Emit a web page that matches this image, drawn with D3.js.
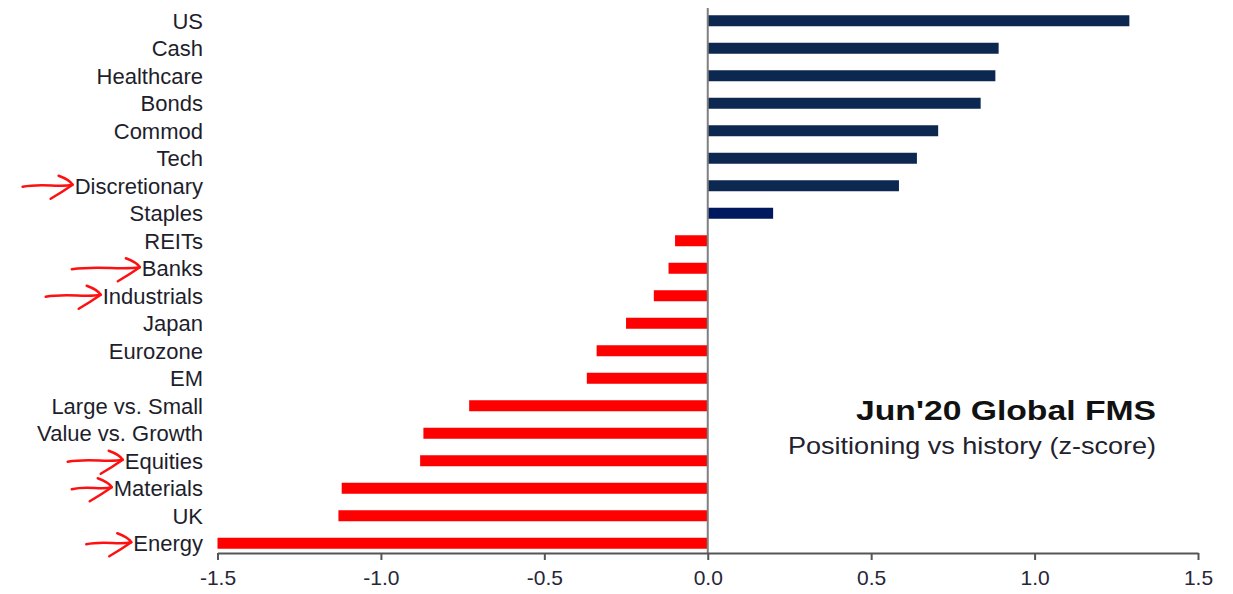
<!DOCTYPE html>
<html>
<head>
<meta charset="utf-8">
<script src="https://cdn.jsdelivr.net/npm/d3@7"></script>
<style>
  html, body { margin: 0; padding: 0; background: #fff; }
  svg { display: block; font-family: "Liberation Sans", Arial, sans-serif; }
</style>
</head>
<body>
<script>
// ----- Data -----
const categories = [
    "US", "Cash", "Healthcare", "Bonds", "Commod", "Tech", "Discretionary", "Staples",
    "REITs", "Banks", "Industrials", "Japan", "Eurozone", "EM", "Large vs. Small",
    "Value vs. Growth", "Equities", "Materials", "UK", "Energy"
];
const zScores = [
    1.29, 0.89, 0.88, 0.835, 0.705, 0.64, 0.585, 0.20,
    -0.10, -0.12, -0.165, -0.25, -0.34, -0.37, -0.73,
    -0.87, -0.88, -1.12, -1.13, -1.50
];
const tickValues = [-1.5, -1.0, -0.5, 0.0, 0.5, 1.0, 1.5];
// labels marked with a hand-drawn red arrow
const arrowed = ["Discretionary", "Banks", "Industrials", "Equities", "Materials", "Energy"];
const arrowLengths = [50, 68, 55, 55, 40, 45];

const titleText = "Jun'20 Global FMS";
const subtitleText = "Positioning vs history (z-score)";

// ----- Layout -----
const Width = 1233, Height = 594;
const AxisY = 553;

function main() {
    const data = categories.map((c, i) => ({ name: c, value: zScores[i] }));

    const svg = d3.select("body").append("svg")
        .attr("width", Width)
        .attr("height", Height);

    const x = d3.scaleLinear()
        .domain([-1.5, 1.5])
        .range([217.5, 1198]);
    const y = d3.scaleBand()
        .domain(categories)
        .range([7, 557])
        .paddingInner(0.6)
        .paddingOuter(0.3);

    // bars
    svg.append("g").selectAll("rect")
        .data(data)
        .enter()
        .append("rect")
            .attr("x", d => x(Math.min(0, d.value)))
            .attr("y", d => y(d.name))
            .attr("width", d => Math.abs(x(d.value) - x(0)))
            .attr("height", y.bandwidth())
            .attr("fill", d => d.name === "Staples" ? "#00185e" : (d.value >= 0 ? "#0c2850" : "#ff0000"));

    // zero line
    svg.append("line")
        .attr("x1", x(0)).attr("x2", x(0))
        .attr("y1", 8).attr("y2", AxisY)
        .attr("stroke", "#7f7f7f")
        .attr("stroke-width", 2);

    // bottom axis
    const bottomAxis = d3.axisBottom(x)
        .tickValues(tickValues)
        .tickFormat(d3.format(".1f"))
        .tickSize(7)
        .tickSizeOuter(0)
        .tickPadding(10);
    const axisG = svg.append("g")
        .attr("transform", `translate(0, ${AxisY})`)
        .call(bottomAxis);
    axisG.select(".domain")
        .attr("stroke", "#555")
        .attr("stroke-width", 2);
    axisG.selectAll(".tick line")
        .attr("stroke", "#555")
        .attr("stroke-width", 2);
    axisG.selectAll(".tick text")
        .attr("fill", "#262636")
        .style("font-size", "21px")
        .style("font-family", "'Liberation Sans', Arial, sans-serif")
        .text(d => d3.format(".1f")(d).replace("−", "-"));

    // category labels
    const labels = svg.append("g").selectAll("text")
        .data(categories)
        .enter()
        .append("text")
            .attr("x", 203)
            .attr("y", d => y(d) + y.bandwidth() / 2)
            .attr("dy", "0.36em")
            .attr("text-anchor", "end")
            .attr("fill", "#1e1e2c")
            .style("font-size", "22px")
            .text(d => d);

    // title
    svg.append("text")
        .attr("x", 1156)
        .attr("y", 420)
        .attr("text-anchor", "end")
        .attr("fill", "#111")
        .style("font-size", "28px")
        .style("font-weight", "bold")
        .attr("textLength", 300)
        .attr("lengthAdjust", "spacingAndGlyphs")
        .text(titleText);
    svg.append("text")
        .attr("x", 1156)
        .attr("y", 454)
        .attr("text-anchor", "end")
        .attr("fill", "#22222e")
        .style("font-size", "24px")
        .attr("textLength", 368)
        .attr("lengthAdjust", "spacingAndGlyphs")
        .text(subtitleText);

    // hand-drawn red arrows pointing at some labels
    const arrowG = svg.append("g")
        .attr("fill", "none")
        .attr("stroke", "#ff1010")
        .attr("stroke-width", 2.5)
        .attr("stroke-linecap", "round")
        .attr("stroke-linejoin", "round");
    labels.filter(d => arrowed.includes(d)).each(function(d) {
        const box = this.getBBox();
        const tipX = box.x - 2;
        const tipY = y(d) + y.bandwidth() / 2;
        const len = arrowLengths[arrowed.indexOf(d)];
        arrowG.append("path")
            .attr("d", `M${tipX - len},${tipY + 1} C${tipX - len * 0.6},${tipY - 3} ${tipX - len * 0.3},${tipY + 2} ${tipX},${tipY - 1}`);
        arrowG.append("path")
            .attr("d", `M${tipX - 14},${tipY - 10} Q${tipX - 3},${tipY - 6} ${tipX},${tipY - 1} Q${tipX - 10},${tipY + 6} ${tipX - 22},${tipY + 13}`);
    });
}

main();
</script>
</body>
</html>
